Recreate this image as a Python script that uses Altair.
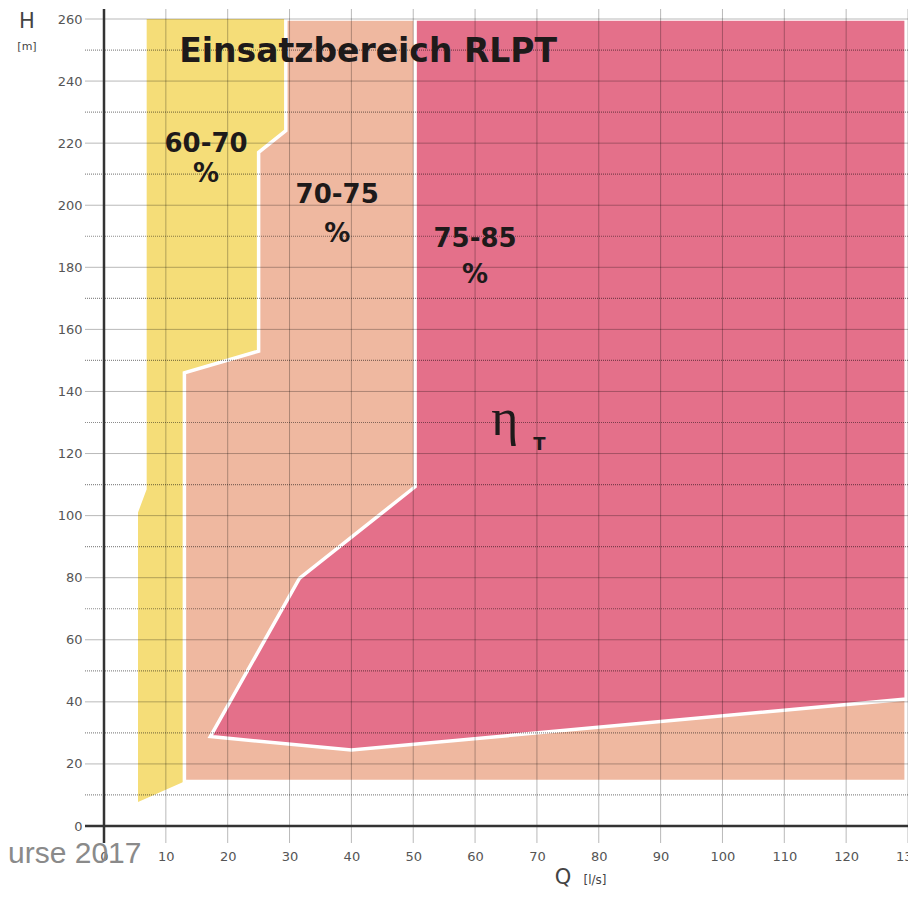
import altair as alt
import pandas as pd

# ---------------- data ----------------
Q_TICKS = list(range(0, 131, 10))
H_TICKS = list(range(0, 261, 20))
H_MINOR = list(range(10, 260, 20))

# region outlines (Q [l/s], H [m])
YELLOW_Q = [6.9, 6.9, 5.5, 5.5, 13.0, 13.0, 25.0, 25.0, 29.4, 29.4, 6.9]
YELLOW_H = [260, 108.5, 101, 7.7, 14.3, 146, 153, 217, 224, 260, 260]
SALMON_Q = [29.4, 29.4, 25.0, 25.0, 13.0, 13.0, 129.7, 129.7, 29.4]
SALMON_H = [260, 224, 217, 153, 146, 14.3, 14.3, 260, 260]
RED_Q = [50.3, 50.3, 31.6, 17.2, 40.0, 129.7, 129.7, 50.3]
RED_H = [260, 109.3, 79.8, 28.8, 24.5, 40.9, 260, 260]

# annotations inside the plot
BIG_LABELS = ["60-70", "%", "70-75", "%", "75-85", "%"]
BIG_Q = [16.5, 16.5, 37.7, 37.7, 60.0, 60.0]
BIG_H = [217.1, 207.5, 200.7, 188.1, 186.5, 174.9]

TITLE = "Einsatzbereich RLPT"
TITLE_Q, TITLE_H = 42.7, 246.3

ETA_Q, ETA_H = 64.8, 126.0
ETA_SUB_Q, ETA_SUB_H = 70.4, 121.1

YELLOW = "#f5dd78"
SALMON = "#efb8a0"
RED = "#e4708a"

W, H_PX = 804, 807

X = alt.X("Q:Q", scale=alt.Scale(domain=[0, 130], nice=False, zero=False),
          axis=alt.Axis(values=Q_TICKS, title=None, grid=False, domain=False,
                        ticks=False, tickSize=0, labelPadding=24,
                        labelFont="DejaVu Sans", labelFontSize=13,
                        labelColor="#555555", labelFlush=False))
Y = alt.Y("H:Q", scale=alt.Scale(domain=[0, 260], nice=False, zero=False),
          axis=alt.Axis(values=H_TICKS, title=None, grid=False, domain=False,
                        ticks=False, tickSize=0, labelPadding=22,
                        labelFont="DejaVu Sans", labelFontSize=13,
                        labelColor="#555555", labelFlush=False))


def poly(qs, hs, color, stroke=None):
    df = pd.DataFrame({"Q": qs, "H": hs, "i": list(range(len(qs)))})
    kw = dict(filled=True, color=color, strokeJoin="miter")
    if stroke:
        kw.update(stroke=stroke, strokeWidth=3.5)
    return alt.Chart(df).mark_line(**kw).encode(x=X, y=Y, order=alt.Order("i:Q"))


yellow = poly(YELLOW_Q, YELLOW_H, YELLOW)
salmon = poly(SALMON_Q, SALMON_H, SALMON, "white")
red = poly(RED_Q, RED_H, RED, "white")

vgrid = alt.Chart(pd.DataFrame({"Q": Q_TICKS})).mark_rule(
    color="black", opacity=0.28, strokeWidth=1
).encode(x=X, y=alt.value(-10), y2=alt.value(H_PX + 17))

hgrid = alt.Chart(pd.DataFrame({"H": H_TICKS})).mark_rule(
    color="black", opacity=0.28, strokeWidth=1
).encode(y=Y, x=alt.value(-19), x2=alt.value(W))

hdot = alt.Chart(pd.DataFrame({"H": H_MINOR})).mark_rule(
    color="black", opacity=0.45, strokeWidth=1.2, strokeDash=[1, 1]
).encode(y=Y, x=alt.value(-19), x2=alt.value(W))

yaxis_line = alt.Chart(pd.DataFrame({"Q": [0]})).mark_rule(
    color="#333333", strokeWidth=2.5
).encode(x=X, y=alt.value(-10), y2=alt.value(H_PX + 17))

xaxis_line = alt.Chart(pd.DataFrame({"H": [0]})).mark_rule(
    color="#333333", strokeWidth=2.5
).encode(y=Y, x=alt.value(-19), x2=alt.value(W + 8))

big = alt.Chart(pd.DataFrame({"Q": BIG_Q, "H": BIG_H, "t": BIG_LABELS})).mark_text(
    font="DejaVu Sans", fontWeight="bold", fontSize=26, color="#1e1a1a",
    align="center", baseline="alphabetic"
).encode(x=X, y=Y, text="t:N")

title = alt.Chart(pd.DataFrame({"Q": [TITLE_Q], "H": [TITLE_H], "t": [TITLE]})).mark_text(
    font="DejaVu Sans", fontWeight="bold", fontSize=33, color="#1e1a1a",
    align="center", baseline="alphabetic"
).encode(x=X, y=Y, text="t:N")

eta = alt.Chart(pd.DataFrame({"Q": [ETA_Q], "H": [ETA_H], "t": ["η"]})).mark_text(
    font="Liberation Serif", fontSize=52, color="#1e1a1a",
    align="center", baseline="alphabetic"
).encode(x=X, y=Y, text="t:N")

eta_sub = alt.Chart(pd.DataFrame({"Q": [ETA_SUB_Q], "H": [ETA_SUB_H], "t": ["T"]})).mark_text(
    font="DejaVu Sans", fontWeight="bold", fontSize=18, color="#1e1a1a",
    align="center", baseline="alphabetic"
).encode(x=X, y=Y, text="t:N")

ONE = pd.DataFrame({"a": [0]})


def free_text(txt, px, py, size, color="#444444", font="DejaVu Sans", align="center",
              baseline="middle", weight="normal"):
    return alt.Chart(ONE).mark_text(
        text=txt, font=font, fontSize=size, color=color, align=align,
        baseline=baseline, fontWeight=weight
    ).encode(x=alt.value(px), y=alt.value(py))


h_lab = free_text("H", -77, 3, 21)
m_lab = free_text("[m]", -77, 28, 11)
q_lab = free_text("Q", 459, 865, 21, baseline="alphabetic")
ls_lab = free_text("[l/s]", 491, 865, 12, baseline="alphabetic")
urse = free_text("urse 2017", -96, 844, 30, color="#8a8a8a", font="Liberation Sans",
                 align="left", baseline="alphabetic")

chart = alt.layer(
    yellow, salmon, red, vgrid, hgrid, hdot, yaxis_line, xaxis_line,
    title, big, eta, eta_sub, h_lab, m_lab, q_lab, ls_lab, urse
).properties(
    width=W, height=H_PX,
    autosize=alt.AutoSizeParams(type="none"),
    padding={"left": 96, "top": 11, "right": 0, "bottom": 66},
    background="white",
).configure_view(stroke=None)

chart.save("out.html", embed_options={"renderer": "svg", "actions": False})
